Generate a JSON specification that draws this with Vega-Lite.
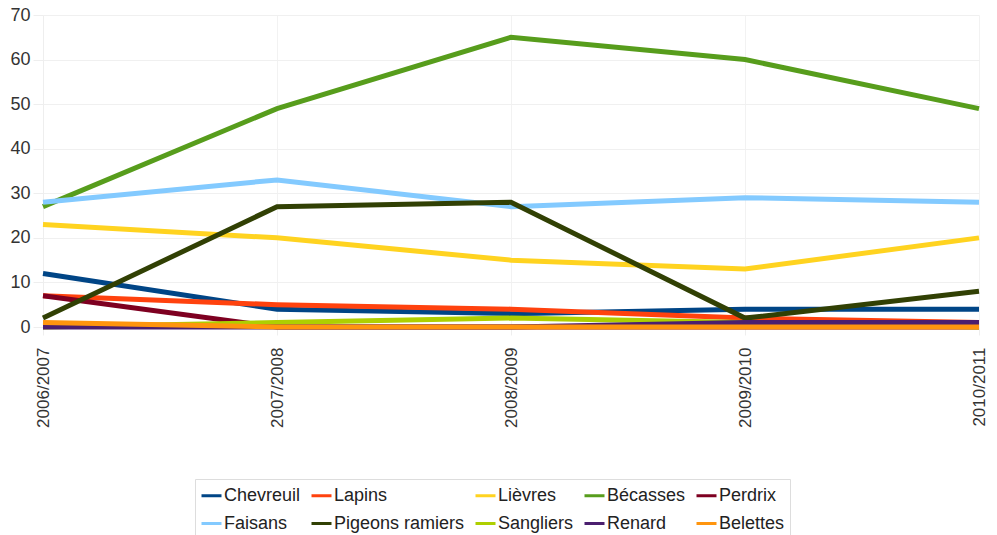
{
  "$schema": "https://vega.github.io/schema/vega-lite/v6.json",
  "width": 936,
  "height": 312,
  "autosize": {"type": "none"},
  "padding": {"left": 43, "top": 15, "right": 18, "bottom": 208},
  "background": "white",
  "config": {
    "font": "Liberation Sans",
    "view": {"stroke": null}
  },
  "data": {
    "values": [
      {"saison": "2006/2007", "espece": "Chevreuil", "n": 12},
      {"saison": "2007/2008", "espece": "Chevreuil", "n": 4},
      {"saison": "2008/2009", "espece": "Chevreuil", "n": 3},
      {"saison": "2009/2010", "espece": "Chevreuil", "n": 4},
      {"saison": "2010/2011", "espece": "Chevreuil", "n": 4},
      {"saison": "2006/2007", "espece": "Lapins", "n": 7},
      {"saison": "2007/2008", "espece": "Lapins", "n": 5},
      {"saison": "2008/2009", "espece": "Lapins", "n": 4},
      {"saison": "2009/2010", "espece": "Lapins", "n": 2},
      {"saison": "2010/2011", "espece": "Lapins", "n": 1},
      {"saison": "2006/2007", "espece": "Lièvres", "n": 23},
      {"saison": "2007/2008", "espece": "Lièvres", "n": 20},
      {"saison": "2008/2009", "espece": "Lièvres", "n": 15},
      {"saison": "2009/2010", "espece": "Lièvres", "n": 13},
      {"saison": "2010/2011", "espece": "Lièvres", "n": 20},
      {"saison": "2006/2007", "espece": "Bécasses", "n": 27},
      {"saison": "2007/2008", "espece": "Bécasses", "n": 49},
      {"saison": "2008/2009", "espece": "Bécasses", "n": 65},
      {"saison": "2009/2010", "espece": "Bécasses", "n": 60},
      {"saison": "2010/2011", "espece": "Bécasses", "n": 49},
      {"saison": "2006/2007", "espece": "Perdrix", "n": 7},
      {"saison": "2007/2008", "espece": "Perdrix", "n": 0},
      {"saison": "2008/2009", "espece": "Perdrix", "n": 0},
      {"saison": "2009/2010", "espece": "Perdrix", "n": 0},
      {"saison": "2010/2011", "espece": "Perdrix", "n": 0},
      {"saison": "2006/2007", "espece": "Faisans", "n": 28},
      {"saison": "2007/2008", "espece": "Faisans", "n": 33},
      {"saison": "2008/2009", "espece": "Faisans", "n": 27},
      {"saison": "2009/2010", "espece": "Faisans", "n": 29},
      {"saison": "2010/2011", "espece": "Faisans", "n": 28},
      {"saison": "2006/2007", "espece": "Pigeons ramiers", "n": 2},
      {"saison": "2007/2008", "espece": "Pigeons ramiers", "n": 27},
      {"saison": "2008/2009", "espece": "Pigeons ramiers", "n": 28},
      {"saison": "2009/2010", "espece": "Pigeons ramiers", "n": 2},
      {"saison": "2010/2011", "espece": "Pigeons ramiers", "n": 8},
      {"saison": "2006/2007", "espece": "Sangliers", "n": 0},
      {"saison": "2007/2008", "espece": "Sangliers", "n": 1},
      {"saison": "2008/2009", "espece": "Sangliers", "n": 2},
      {"saison": "2009/2010", "espece": "Sangliers", "n": 1},
      {"saison": "2010/2011", "espece": "Sangliers", "n": 0},
      {"saison": "2006/2007", "espece": "Renard", "n": 0},
      {"saison": "2007/2008", "espece": "Renard", "n": 0},
      {"saison": "2008/2009", "espece": "Renard", "n": 0},
      {"saison": "2009/2010", "espece": "Renard", "n": 1},
      {"saison": "2010/2011", "espece": "Renard", "n": 1},
      {"saison": "2006/2007", "espece": "Belettes", "n": 1},
      {"saison": "2007/2008", "espece": "Belettes", "n": 0},
      {"saison": "2008/2009", "espece": "Belettes", "n": 0},
      {"saison": "2009/2010", "espece": "Belettes", "n": 0},
      {"saison": "2010/2011", "espece": "Belettes", "n": 0}
    ]
  },
  "mark": {"type": "line", "strokeWidth": 5, "strokeJoin": "miter", "strokeCap": "butt"},
  "encoding": {
    "x": {
      "field": "saison",
      "type": "ordinal",
      "scale": {"type": "point", "padding": 0},
      "axis": {
        "title": null,
        "labelAngle": 270,
        "labelFontSize": 17,
        "labelColor": "#333333",
        "labelPadding": 12,
        "domain": false,
        "grid": true,
        "gridColor": "#f2f2f2",
        "tickColor": "#eeeeee",
        "tickSize": 8
      }
    },
    "y": {
      "field": "n",
      "type": "quantitative",
      "scale": {"domain": [0, 70], "nice": false},
      "axis": {
        "title": null,
        "values": [0, 10, 20, 30, 40, 50, 60, 70],
        "labelFontSize": 18,
        "labelColor": "#333333",
        "labelPadding": 3,
        "domainColor": "#eeeeee",
        "gridColor": "#f0f0f0",
        "tickColor": "#eeeeee",
        "tickSize": 10
      }
    },
    "color": {
      "field": "espece",
      "type": "nominal",
      "sort": ["Chevreuil", "Lapins", "Lièvres", "Bécasses", "Perdrix", "Faisans", "Pigeons ramiers", "Sangliers", "Renard", "Belettes"],
      "scale": {
        "domain": ["Chevreuil", "Lapins", "Lièvres", "Bécasses", "Perdrix", "Faisans", "Pigeons ramiers", "Sangliers", "Renard", "Belettes"],
        "range": ["#004586", "#ff420e", "#ffd320", "#579d1c", "#7e0021", "#83caff", "#314004", "#aecf00", "#4b1f6f", "#ff950e"]
      },
      "legend": {
        "title": null,
        "orient": "none",
        "legendX": 152,
        "legendY": 464,
        "direction": "horizontal",
        "columns": 5,
        "symbolType": "stroke",
        "symbolSize": 400,
        "symbolStrokeWidth": 3,
        "labelFontSize": 18,
        "labelColor": "#222222",
        "labelOffset": 1,
        "columnPadding": 4,
        "rowPadding": 7,
        "padding": 5,
        "strokeColor": "#dddddd"
      }
    }
  }
}
